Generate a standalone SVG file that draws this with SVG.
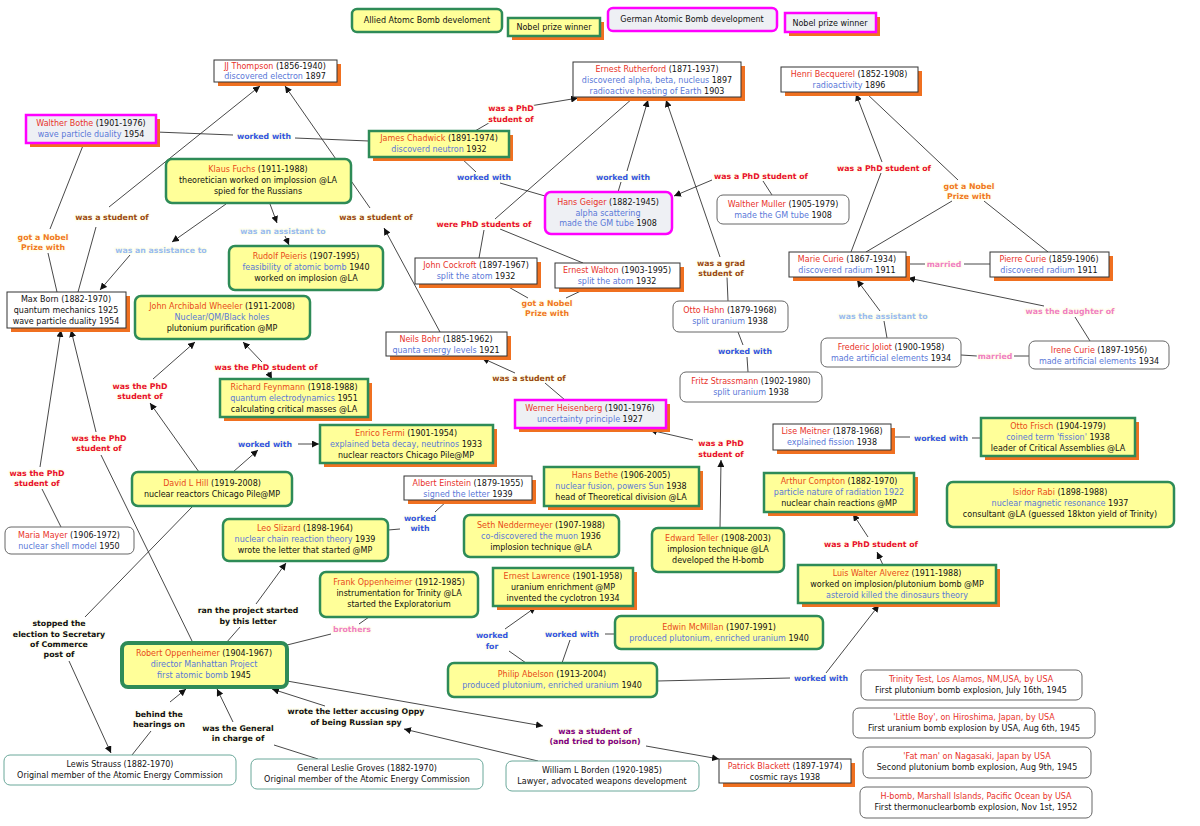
<svg xmlns="http://www.w3.org/2000/svg" width="1200" height="826" viewBox="0 0 1200 826">
<style>
text{font-family:"DejaVu Sans","Verdana",sans-serif;font-size:8px;text-anchor:middle;fill:#111}
.lb{font-weight:bold;font-size:7.8px;stroke:#fffff0;stroke-width:3px;paint-order:stroke;stroke-linejoin:round}
.r{fill:#e8322a}.o{fill:#e84a18}.b{fill:#5a78d8}
.cr{fill:#e8102a}.cb{fill:#3355dd}.cn{fill:#9a4a10}.co{fill:#f07820}.cl{fill:#99bbee}.cp{fill:#f080c0}.ck{fill:#111}.cv{fill:#800080}
.sh{fill:#f07020}
.ns{fill:#fff;stroke:#333;stroke-width:1}
.agn{fill:#ffff99;stroke:#2e8b57;stroke-width:2.5}
.ag{fill:#ffff99;stroke:#2e8b57;stroke-width:2.5}
.gm{fill:#eef0f4;stroke:#ff00ff;stroke-width:2.5}
.pl{fill:#fff;stroke:#666;stroke-width:1}
.tl{fill:#fff;stroke:#6aa89a;stroke-width:1}
#edges path{fill:none;stroke:#333;stroke-width:0.9}
</style>
<defs>
<marker id="a" viewBox="0 0 10 10" refX="10" refY="5" markerWidth="7" markerHeight="7" orient="auto" markerUnits="userSpaceOnUse"><path d="M0,0L10,5L0,10z" fill="#111"/></marker>
</defs>
<rect width="1200" height="826" fill="#fff"/>
<g id="edges">
<path d="M475,131L494,120"/><path d="M530,106L578,98" marker-end="url(#a)"/>
<path d="M156,132L233,135"/><path d="M295,138L369,141"/>
<path d="M460,157L476,172"/><path d="M500,183L545,196"/>
<path d="M618,192L621,182"/><path d="M627,171L648,100" marker-end="url(#a)"/>
<path d="M772,195L763,181"/><path d="M712,180L674,196" marker-end="url(#a)"/>
<path d="M479,258L484,230"/><path d="M583,263L500,229"/><path d="M495,219L633,98"/>
<path d="M728,301L727,277"/><path d="M720,257L666,100" marker-end="url(#a)"/>
<path d="M505,285L528,298"/><path d="M566,298L585,289"/>
<path d="M851,252L881,173"/><path d="M882,162L856,94" marker-end="url(#a)"/>
<path d="M866,93L958,180"/><path d="M866,252L952,201"/><path d="M1048,252L984,201"/>
<path d="M906,264L925,264"/><path d="M964,264L990,264"/>
<path d="M887,338L884,321"/><path d="M880,311L857,280" marker-end="url(#a)"/>
<path d="M1090,341L1075,317"/><path d="M1044,306L908,278" marker-end="url(#a)"/>
<path d="M738,332L743,345"/><path d="M747,357L748,372"/>
<path d="M961,355L977,356"/><path d="M1014,356L1029,356"/>
<path d="M565,400L545,383"/><path d="M515,373L482,358" marker-end="url(#a)"/>
<path d="M78,292L96,227"/><path d="M109,207L260,86" marker-end="url(#a)"/>
<path d="M440,332L384,228" marker-end="url(#a)"/><path d="M370,208L285,86" marker-end="url(#a)"/>
<path d="M226,204L172,242" marker-end="url(#a)"/><path d="M130,255L100,290" marker-end="url(#a)"/>
<path d="M270,204L277,223" marker-end="url(#a)"/><path d="M285,236L289,245" marker-end="url(#a)"/>
<path d="M84,143L50,229"/><path d="M48,253L57,292"/>
<path d="M262,362L243,342" marker-end="url(#a)"/><path d="M268,372L272,379" marker-end="url(#a)"/>
<path d="M199,472L150,403" marker-end="url(#a)"/><path d="M153,379L195,342" marker-end="url(#a)"/>
<path d="M233,472L258,450" marker-end="url(#a)"/><path d="M298,444L319,444" marker-end="url(#a)"/>
<path d="M61,527L42,489"/><path d="M40,467L61,330" marker-end="url(#a)"/>
<path d="M193,643L101,455"/><path d="M96,432L71,330" marker-end="url(#a)"/>
<path d="M448,500L435,512"/><path d="M400,529L388,530"/>
<path d="M720,528L721,460" marker-end="url(#a)"/><path d="M693,440L650,430" marker-end="url(#a)"/>
<path d="M891,437L910,437"/><path d="M972,438L981,438"/>
<path d="M883,565L877,552" marker-end="url(#a)"/><path d="M868,537L853,514" marker-end="url(#a)"/>
<path d="M193,506L85,617"/><path d="M69,661L111,753" marker-end="url(#a)"/>
<path d="M226,643L240,627"/><path d="M256,604L286,563" marker-end="url(#a)"/>
<path d="M287,645L331,634"/><path d="M359,624L369,617"/>
<path d="M526,663L509,651"/><path d="M505,629L536,607" marker-end="url(#a)"/>
<path d="M562,663L570,640"/><path d="M605,634L615,634"/>
<path d="M657,681L790,678"/><path d="M826,673L879,605" marker-end="url(#a)"/>
<path d="M132,755L151,731"/><path d="M170,702L186,689" marker-end="url(#a)"/>
<path d="M318,759L274,745"/><path d="M233,722L217,689" marker-end="url(#a)"/>
<path d="M538,761L404,729" marker-end="url(#a)"/><path d="M325,706L272,689" marker-end="url(#a)"/>
<path d="M287,681L543,726" marker-end="url(#a)"/><path d="M646,746L719,759" marker-end="url(#a)"/>
</g>
<g id="labels">
<text class="lb cr" x="511" y="111">was a PhD</text><text class="lb cr" x="511" y="122">student of</text>
<text class="lb cb" x="264" y="139">worked with</text>
<text class="lb cb" x="484" y="180">worked with</text>
<text class="lb cb" x="623" y="180">worked with</text>
<text class="lb cr" x="761" y="179">was a PhD student of</text>
<text class="lb cr" x="884" y="171">was a PhD student of</text>
<text class="lb co" x="969" y="189">got a Nobel</text><text class="lb co" x="969" y="199">Prize with</text>
<text class="lb cn" x="112" y="220">was a student of</text>
<text class="lb cn" x="376" y="220">was a student of</text>
<text class="lb cl" x="283" y="234">was an assistant to</text>
<text class="lb cl" x="161" y="253">was an assistance to</text>
<text class="lb co" x="43" y="240">got a Nobel</text><text class="lb co" x="43" y="250">Prize with</text>
<text class="lb cr" x="484" y="227">were PhD students of</text>
<text class="lb co" x="547" y="306">got a Nobel</text><text class="lb co" x="547" y="316">Prize with</text>
<text class="lb cn" x="721" y="266">was a grad</text><text class="lb cn" x="721" y="276">student of</text>
<text class="lb cp" x="944" y="267">married</text>
<text class="lb cl" x="883" y="319">was the assistant to</text>
<text class="lb cp" x="1070" y="314">was the daughter of</text>
<text class="lb cb" x="745" y="354">worked with</text>
<text class="lb cp" x="995" y="359">married</text>
<text class="lb cn" x="529" y="381">was a student of</text>
<text class="lb cr" x="266" y="370">was the PhD student of</text>
<text class="lb cr" x="140" y="389">was the PhD</text><text class="lb cr" x="140" y="399">student of</text>
<text class="lb cr" x="99" y="441">was the PhD</text><text class="lb cr" x="99" y="451">student of</text>
<text class="lb cr" x="37" y="476">was the PhD</text><text class="lb cr" x="37" y="486">student of</text>
<text class="lb cb" x="265" y="447">worked with</text>
<text class="lb cr" x="721" y="446">was a PhD</text><text class="lb cr" x="721" y="457">student of</text>
<text class="lb cb" x="941" y="441">worked with</text>
<text class="lb cb" x="420" y="521">worked</text><text class="lb cb" x="420" y="531">with</text>
<text class="lb cr" x="871" y="547">was a PhD student of</text>
<text class="lb ck" x="59" y="626">stopped the</text><text class="lb ck" x="59" y="637">election to Secretary</text><text class="lb ck" x="59" y="647">of Commerce</text><text class="lb ck" x="59" y="657">post of</text>
<text class="lb ck" x="248" y="613">ran the project started</text><text class="lb ck" x="248" y="624">by this letter</text>
<text class="lb cp" x="352" y="632">brothers</text>
<text class="lb cb" x="492" y="638">worked</text><text class="lb cb" x="492" y="649">for</text>
<text class="lb cb" x="572" y="637">worked with</text>
<text class="lb cb" x="821" y="681">worked with</text>
<text class="lb ck" x="159" y="717">behind the</text><text class="lb ck" x="159" y="727">hearings on</text>
<text class="lb ck" x="238" y="731">was the General</text><text class="lb ck" x="238" y="741">in charge of</text>
<text class="lb ck" x="356" y="714">wrote the letter accusing Oppy</text><text class="lb ck" x="356" y="725">of being Russian spy</text>
<text class="lb cv" x="595" y="734">was a student of</text><text class="lb cv" x="595" y="744">(and tried to poison)</text>
</g>
<g id="legend">
<g id="leg1"><rect class="ag" x="352" y="9" width="150" height="23" rx="5"/><text x="427" y="23">Allied Atomc Bomb develoment</text></g>
<g id="leg2"><rect class="sh" x="512" y="22" width="92" height="18"/><rect class="agn" x="508" y="18" width="92" height="18"/><text x="554" y="30">Nobel prize winner</text></g>
<g id="leg3"><rect class="gm" x="608" y="8" width="169" height="23" rx="5"/><text x="692" y="22">German Atomic Bomb development</text></g>
<g id="leg4"><rect class="sh" x="789" y="17" width="91" height="19"/><rect class="gm" x="785" y="13" width="91" height="19"/><text x="830" y="26">Nobel prize winner</text></g>
</g>
<g id="jj"><rect class="sh" x="218" y="64" width="123" height="22"/><rect class="ns" x="214" y="60" width="123" height="22"/><text x="275" y="69"><tspan class="r">JJ Thompson</tspan> (1856-1940)</text><text x="275" y="79"><tspan class="b">discovered electron</tspan> 1897</text></g>
<g id="rutherford"><rect class="sh" x="577" y="66" width="168" height="35"/><rect class="ns" x="573" y="62" width="168" height="35"/><text x="657" y="72"><tspan class="r">Ernest Rutherford</tspan> (1871-1937)</text><text x="657" y="83"><tspan class="b">discovered alpha, beta, nucleus</tspan> 1897</text><text x="657" y="94"><tspan class="b">radioactive heating of Earth</tspan> 1903</text></g>
<g id="becquerel"><rect class="sh" x="785" y="71" width="137" height="25"/><rect class="ns" x="781" y="67" width="137" height="25"/><text x="849" y="77"><tspan class="r">Henri Becquerel</tspan> (1852-1908)</text><text x="849" y="88"><tspan class="b">radioactivity</tspan> 1896</text></g>
<g id="bothe"><rect class="sh" x="30" y="119" width="130" height="28"/><rect class="gm" x="26" y="115" width="130" height="28"/><text x="91" y="126"><tspan class="r">Walther Bothe</tspan> (1901-1976)</text><text x="91" y="137"><tspan class="b">wave particle duality</tspan> 1954</text></g>
<g id="chadwick"><rect class="sh" x="373" y="135" width="140" height="26"/><rect class="agn" x="369" y="131" width="140" height="26"/><text x="439" y="141"><tspan class="o">James Chadwick</tspan> (1891-1974)</text><text x="439" y="152"><tspan class="b">discoverd neutron</tspan> 1932</text></g>
<g id="fuchs"><rect class="ag" x="166" y="159" width="185" height="44" rx="6"/><text x="258" y="172"><tspan class="o">Klaus Fuchs</tspan> (1911-1988)</text><text x="258" y="183">theoretician worked on implossion @LA</text><text x="258" y="194">spied for the Russians</text></g>
<g id="peieris"><rect class="ag" x="229" y="246" width="154" height="44" rx="6"/><text x="306" y="259"><tspan class="o">Rudolf Peieris</tspan> (1907-1995)</text><text x="306" y="270"><tspan class="b">feasibility of atomic bomb</tspan> 1940</text><text x="306" y="281">worked on implosion @LA</text></g>
<g id="geiger"><rect class="gm" x="545" y="192" width="127" height="42" rx="6"/><text x="608" y="205"><tspan class="r">Hans Geiger</tspan> (1882-1945)</text><text x="608" y="216" class="b">alpha scattering</text><text x="608" y="226"><tspan class="b">made the GM tube</tspan> 1908</text></g>
<g id="muller"><rect class="pl" x="717" y="195" width="132" height="29" rx="6"/><text x="783" y="207"><tspan class="r">Walther Muller</tspan> (1905-1979)</text><text x="783" y="218"><tspan class="b">made the GM tube</tspan> 1908</text></g>
<g id="cockroft"><rect class="sh" x="419" y="262" width="122" height="26"/><rect class="ns" x="415" y="258" width="122" height="26"/><text x="476" y="268"><tspan class="r">John Cockroft</tspan> (1897-1967)</text><text x="476" y="279"><tspan class="b">split the atom</tspan> 1932</text></g>
<g id="walton"><rect class="sh" x="559" y="267" width="125" height="25"/><rect class="ns" x="555" y="263" width="125" height="25"/><text x="617" y="273"><tspan class="r">Ernest Walton</tspan> (1903-1995)</text><text x="617" y="284"><tspan class="b">split the atom</tspan> 1932</text></g>
<g id="marie"><rect class="sh" x="793" y="256" width="117" height="25"/><rect class="ns" x="789" y="252" width="117" height="25"/><text x="847" y="262"><tspan class="r">Marie Curie</tspan> (1867-1934)</text><text x="847" y="273"><tspan class="b">discovered radium</tspan> 1911</text></g>
<g id="pierre"><rect class="sh" x="994" y="256" width="119" height="25"/><rect class="ns" x="990" y="252" width="119" height="25"/><text x="1049" y="262"><tspan class="r">Pierre Curie</tspan> (1859-1906)</text><text x="1049" y="273"><tspan class="b">discovered radium</tspan> 1911</text></g>
<g id="born"><rect class="sh" x="11" y="296" width="119" height="36"/><rect class="ns" x="7" y="292" width="119" height="36"/><text x="66" y="302">Max Born (1882-1970)</text><text x="66" y="313">quantum mechanics 1925</text><text x="66" y="324">wave particle duality 1954</text></g>
<g id="wheeler"><rect class="ag" x="135" y="296" width="175" height="43" rx="6"/><text x="222" y="309"><tspan class="o">John Archibald Wheeler</tspan> (1911-2008)</text><text x="222" y="320" class="b">Nuclear/QM/Black holes</text><text x="222" y="331">plutonium purification @MP</text></g>
<g id="bohr"><rect class="sh" x="390" y="336" width="121" height="24"/><rect class="ns" x="386" y="332" width="121" height="24"/><text x="446" y="342"><tspan class="r">Neils Bohr</tspan> (1885-1962)</text><text x="446" y="353"><tspan class="b">quanta energy levels</tspan> 1921</text></g>
<g id="hahn"><rect class="pl" x="673" y="301" width="115" height="31" rx="6"/><text x="730" y="313"><tspan class="r">Otto Hahn</tspan> (1879-1968)</text><text x="730" y="324"><tspan class="b">split uranium</tspan> 1938</text></g>
<g id="strassmann"><rect class="pl" x="680" y="372" width="142" height="30" rx="6"/><text x="751" y="384"><tspan class="r">Fritz Strassmann</tspan> (1902-1980)</text><text x="751" y="395"><tspan class="b">split uranium</tspan> 1938</text></g>
<g id="joliot"><rect class="pl" x="821" y="338" width="140" height="29" rx="6"/><text x="891" y="350"><tspan class="r">Frederic Joliot</tspan> (1900-1958)</text><text x="891" y="361"><tspan class="b">made artificial elements</tspan> 1934</text></g>
<g id="irene"><rect class="pl" x="1029" y="341" width="140" height="28" rx="6"/><text x="1099" y="353"><tspan class="r">Irene Curie</tspan> (1897-1956)</text><text x="1099" y="364"><tspan class="b">made artificial elements</tspan> 1934</text></g>
<g id="feynmann"><rect class="sh" x="224" y="383" width="148" height="38"/><rect class="agn" x="220" y="379" width="148" height="38"/><text x="294" y="390"><tspan class="o">Richard Feynmann</tspan> (1918-1988)</text><text x="294" y="401"><tspan class="b">quantum electrodynamics</tspan> 1951</text><text x="294" y="412">calculating critical masses @LA</text></g>
<g id="heisenberg"><rect class="sh" x="519" y="404" width="151" height="28"/><rect class="gm" x="515" y="400" width="151" height="28"/><text x="590" y="411"><tspan class="r">Werner Heisenberg</tspan> (1901-1976)</text><text x="590" y="422"><tspan class="b">uncertainty principle</tspan> 1927</text></g>
<g id="fermi"><rect class="sh" x="324" y="429" width="173" height="38"/><rect class="agn" x="320" y="425" width="173" height="38"/><text x="406" y="436"><tspan class="o">Enrico Fermi</tspan> (1901-1954)</text><text x="406" y="447"><tspan class="b">explained beta decay, neutrinos</tspan> 1933</text><text x="406" y="458">nuclear reactors Chicago Pile@MP</text></g>
<g id="meitner"><rect class="sh" x="777" y="428" width="118" height="26"/><rect class="ns" x="773" y="424" width="118" height="26"/><text x="832" y="434"><tspan class="r">Lise Meitner</tspan> (1878-1968)</text><text x="832" y="445"><tspan class="b">explained fission</tspan> 1938</text></g>
<g id="frisch"><rect class="sh" x="985" y="422" width="154" height="38"/><rect class="agn" x="981" y="418" width="154" height="38"/><text x="1058" y="429"><tspan class="o">Otto Frisch</tspan> (1904-1979)</text><text x="1058" y="440"><tspan class="b">coined term 'fission'</tspan> 1938</text><text x="1058" y="451">leader of Critical Assemblies @LA</text></g>
<g id="hill"><rect class="ag" x="132" y="472" width="160" height="34" rx="6"/><text x="212" y="486"><tspan class="o">David L Hill</tspan> (1919-2008)</text><text x="212" y="497">nuclear reactors Chicago Pile@MP</text></g>
<g id="einstein"><rect class="sh" x="408" y="480" width="128" height="24"/><rect class="ns" x="404" y="476" width="128" height="24"/><text x="468" y="486"><tspan class="r">Albert Einstein</tspan> (1879-1955)</text><text x="468" y="497"><tspan class="b">signed the letter</tspan> 1939</text></g>
<g id="bethe"><rect class="sh" x="548" y="471" width="155" height="39"/><rect class="agn" x="544" y="467" width="155" height="39"/><text x="621" y="478"><tspan class="o">Hans Bethe</tspan> (1906-2005)</text><text x="621" y="489"><tspan class="b">nuclear fusion, powers  Sun</tspan> 1938</text><text x="621" y="500">head of Theoretical division @LA</text></g>
<g id="compton"><rect class="sh" x="768" y="477" width="150" height="39"/><rect class="agn" x="764" y="473" width="150" height="39"/><text x="839" y="484"><tspan class="o">Arthur Compton</tspan> (1882-1970)</text><text x="839" y="495"><tspan class="b">particle nature of radiation 1922</tspan></text><text x="839" y="506">nuclear chain reactions @MP</text></g>
<g id="rabi"><rect class="ag" x="947" y="482" width="227" height="45" rx="6"/><text x="1060" y="495"><tspan class="o">Isidor Rabi</tspan> (1898-1988)</text><text x="1060" y="506"><tspan class="b">nuclear magnetic resonance</tspan>  1937</text><text x="1060" y="517">consultant @LA (guessed 18kton yield of Trinity)</text></g>
<g id="mayer"><rect class="pl" x="5" y="527" width="129" height="27" rx="6"/><text x="69" y="538"><tspan class="r">Maria Mayer</tspan> (1906-1972)</text><text x="69" y="549"><tspan class="b">nuclear shell model</tspan> 1950</text></g>
<g id="slizard"><rect class="ag" x="223" y="519" width="165" height="42" rx="6"/><text x="305" y="531"><tspan class="o">Leo Slizard</tspan> (1898-1964)</text><text x="305" y="542"><tspan class="b">nuclear chain reaction theory</tspan> 1939</text><text x="305" y="553">wrote the letter that started  @MP</text></g>
<g id="seth"><rect class="ag" x="464" y="515" width="155" height="42" rx="6"/><text x="541" y="528"><tspan class="o">Seth Neddermeyer</tspan> (1907-1988)</text><text x="541" y="539"><tspan class="b">co-discovered the muon</tspan> 1936</text><text x="541" y="550">implosion technique @LA</text></g>
<g id="teller"><rect class="ag" x="652" y="528" width="132" height="44" rx="6"/><text x="718" y="541"><tspan class="o">Edward Teller</tspan> (1908-2003)</text><text x="718" y="552">implosion technique @LA</text><text x="718" y="563">developed the H-bomb</text></g>
<g id="frank"><rect class="ag" x="320" y="572" width="158" height="45" rx="6"/><text x="399" y="585"><tspan class="o">Frank Oppenheimer</tspan> (1912-1985)</text><text x="399" y="596">instrumentation for Trinity @LA</text><text x="399" y="607">started the Exploratorium</text></g>
<g id="lawrence"><rect class="sh" x="497" y="572" width="140" height="38"/><rect class="agn" x="493" y="568" width="140" height="38"/><text x="563" y="579"><tspan class="o">Ernest Lawrence</tspan> (1901-1958)</text><text x="563" y="590">uranium enrichment @MP</text><text x="563" y="601">invented the cyclotron 1934</text></g>
<g id="alverez"><rect class="sh" x="802" y="569" width="198" height="38"/><rect class="agn" x="798" y="565" width="198" height="38"/><text x="897" y="576"><tspan class="o">Luis Walter Alverez</tspan> (1911-1988)</text><text x="897" y="587">worked on implosion/plutonium bomb @MP</text><text x="897" y="598" class="b">asteroid killed the dinosaurs theory</text></g>
<g id="mcmillan"><rect class="ag" x="615" y="616" width="208" height="33" rx="6"/><text x="719" y="630"><tspan class="o">Edwin McMillan</tspan> (1907-1991)</text><text x="719" y="641"><tspan class="b">produced plutonium, enriched uranium</tspan> 1940</text></g>
<g id="robert"><rect class="ag" x="122" y="643" width="165" height="44" rx="6" style="stroke-width:4"/><text x="204" y="656"><tspan class="o">Robert Oppenheimer</tspan> (1904-1967)</text><text x="204" y="667" class="b">director Manhattan Project</text><text x="204" y="678"><tspan class="b">first atomic bomb</tspan> 1945</text></g>
<g id="abelson"><rect class="ag" x="448" y="663" width="209" height="34" rx="6"/><text x="552" y="677"><tspan class="o">Philip Abelson</tspan> (1913-2004)</text><text x="552" y="688"><tspan class="b">produced plutonium, enriched uranium</tspan> 1940</text></g>
<g id="trinity"><rect class="pl" x="861" y="670" width="221" height="30" rx="6"/><text x="971" y="682" class="r">Trinity Test, Los Alamos, NM,USA, by USA</text><text x="971" y="693">First plutonium bomb explosion, July 16th, 1945</text></g>
<g id="littleboy"><rect class="pl" x="853" y="708" width="242" height="30" rx="6"/><text x="974" y="720" class="r">'Little Boy', on Hiroshima, Japan, by USA</text><text x="974" y="731">First uranium bomb explosion by USA, Aug 6th, 1945</text></g>
<g id="fatman"><rect class="pl" x="863" y="747" width="228" height="31" rx="6"/><text x="977" y="759" class="r">'Fat man' on Nagasaki, Japan by USA</text><text x="977" y="770">Second plutonium bomb explosion, Aug 9th, 1945</text></g>
<g id="hbomb"><rect class="pl" x="860" y="787" width="232" height="31" rx="6"/><text x="976" y="799" class="r">H-bomb, Marshall Islands, Pacific Ocean by USA</text><text x="976" y="810">First thermonuclearbomb explosion, Nov 1st, 1952</text></g>
<g id="strauss"><rect class="tl" x="4" y="755" width="232" height="30" rx="6"/><text x="120" y="767">Lewis Strauss (1882-1970)</text><text x="120" y="778">Original member of the Atomic Energy Commission</text></g>
<g id="groves"><rect class="tl" x="251" y="759" width="232" height="30" rx="6"/><text x="367" y="771">General Leslie Groves (1882-1970)</text><text x="367" y="782">Original member of the Atomic Energy Commission</text></g>
<g id="borden"><rect class="tl" x="506" y="761" width="193" height="30" rx="6"/><text x="602" y="773">William L Borden (1920-1985)</text><text x="602" y="784">Lawyer, advocated weapons development</text></g>
<g id="blackett"><rect class="sh" x="723" y="763" width="132" height="24"/><rect class="ns" x="719" y="759" width="132" height="24"/><text x="785" y="769"><tspan class="r">Patrick Blackett</tspan> (1897-1974)</text><text x="785" y="780">cosmic rays 1938</text></g>
</svg>
